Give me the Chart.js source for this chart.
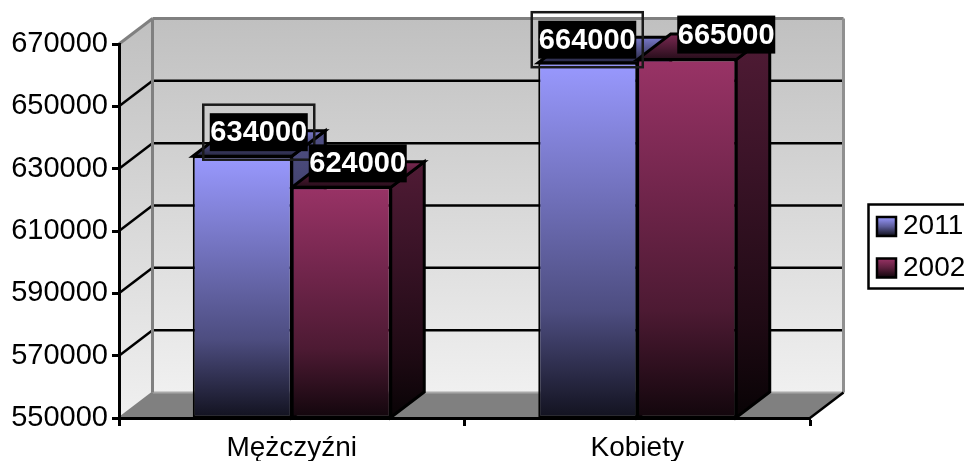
<!DOCTYPE html>
<html>
<head>
<meta charset="utf-8">
<style>html,body{margin:0;padding:0;background:#fff;overflow:hidden}canvas{display:block}</style>
<script src="https://cdn.jsdelivr.net/npm/chart.js@4"></script>
</head>
<body>
<canvas id="c" width="964" height="461"></canvas>
<script>
const categories = ['Mężczyźni', 'Kobiety'];
const seriesNames = ['2011', '2002'];
const values2011 = [634000, 664000];
const values2002 = [624000, 665000];
const axisMin = 550000;
const axisMax = 670000;
const axisStep = 20000;

const FONT = '"Liberation Sans", Arial, sans-serif';
const DX = 33.5, DY = 25.5;
const BASE_RGB = [[153, 153, 255], [153, 51, 102]];
const FRONT_STOPS = [[0, 1], [0.35, 0.75], [0.7, 0.5], [1, 0.12]];
const SIDE_STOPS = [[0, 0.52], [0.35, 0.38], [0.75, 0.2], [1, 0.05]];
// label offsets from each bar's top-centre, per series and category
const LABEL_OFFSET = [[[16.5, -24], [-0.5, -23]], [[16.5, -24], [39.5, -25]]];

function shade(rgb, f) {
  return 'rgb(' + rgb.map(v => Math.round(v * f)).join(',') + ')';
}
function grad(ctx, y0, y1, rgb, stops) {
  const g = ctx.createLinearGradient(0, y0, 0, y1);
  stops.forEach(s => g.addColorStop(s[0], shade(rgb, s[1])));
  return g;
}
function poly(ctx, pts, fill, stroke, lw) {
  ctx.beginPath();
  pts.forEach((p, i) => i ? ctx.lineTo(p[0], p[1]) : ctx.moveTo(p[0], p[1]));
  ctx.closePath();
  if (fill) { ctx.fillStyle = fill; ctx.fill(); }
  if (stroke) { ctx.strokeStyle = stroke; ctx.lineWidth = lw; ctx.lineJoin = 'miter'; ctx.stroke(); }
}
function line(ctx, x0, y0, x1, y1, color, lw) {
  ctx.beginPath(); ctx.moveTo(x0, y0); ctx.lineTo(x1, y1);
  ctx.strokeStyle = color; ctx.lineWidth = lw; ctx.stroke();
}

const scene = {
  id: 'scene',
  beforeInit(chart) {
    const fit = chart.legend.fit;
    chart.legend.fit = function () { fit.call(this); this.width = 154; };
  },
  afterLayout(chart) {
    const lg = chart.legend;
    lg.left = 863.5; lg.right = 1000; lg.top = 199; lg.bottom = 300;
  },
  beforeDraw(chart) {
    const { ctx, chartArea: a, scales: { y } } = chart;
    const L = a.left, R = a.right, T = a.top, B = a.bottom;
    ctx.save();
    const wall = ctx.createLinearGradient(0, T - DY, 0, B - DY);
    wall.addColorStop(0, '#c0c0c0'); wall.addColorStop(1, '#f0f0f0');
    poly(ctx, [[L + DX, T - DY], [R + DX, T - DY], [R + DX, B - DY], [L + DX, B - DY]], wall);
    const side = ctx.createLinearGradient(0, T - DY, 0, B);
    side.addColorStop(0, '#c0c0c0'); side.addColorStop(1, '#f0f0f0');
    poly(ctx, [[L, T], [L + DX, T - DY], [L + DX, B - DY], [L, B]], side);
    poly(ctx, [[L, B], [L + DX, B - DY], [R + DX, B - DY], [R, B]], '#808080');
    y.ticks.forEach(t => {
      if (t.value === axisMin || t.value === axisMax) return;
      const py = y.getPixelForValue(t.value);
      line(ctx, L, py, L + DX, py - DY, '#000', 2.5);
      line(ctx, L + DX, py - DY, R + DX, py - DY, '#000', 2.5);
    });
    line(ctx, L + DX, B - DY, R + DX, B - DY, '#a8a8a8', 2);
    line(ctx, L, T, L + DX, T - DY, '#808080', 3);
    line(ctx, L + DX, T - DY, R + DX, T - DY, '#808080', 3);
    line(ctx, L + DX, T - DY, L + DX, B - DY, '#808080', 3);
    line(ctx, R + DX, T - DY, R + DX, B - DY, '#909090', 3);
    line(ctx, L, B, L + DX, B - DY, '#808080', 2);
    line(ctx, R, B, R + DX, B - DY, '#000', 2.5);
    ctx.restore();
  },
  beforeDatasetsDraw(chart) {
    const { ctx } = chart;
    ctx.save();
    chart.data.datasets.forEach((ds, di) => {
      const rgb = BASE_RGB[di];
      chart.getDatasetMeta(di).data.forEach(el => {
        const p = el.getProps(['x', 'y', 'base', 'width'], true);
        const l = p.x - p.width / 2, r = p.x + p.width / 2;
        const topFill = ctx.createLinearGradient(0, p.y - DY, 0, p.y);
        topFill.addColorStop(0, shade(rgb, 0.8));
        topFill.addColorStop(1, shade(rgb, 0.25));
        poly(ctx, [[r, p.y], [r + DX, p.y - DY], [r + DX, p.base - DY], [r, p.base]],
          grad(ctx, p.y - DY, p.base, rgb, SIDE_STOPS), '#000', 3);
        poly(ctx, [[l, p.y], [l + DX, p.y - DY], [r + DX, p.y - DY], [r, p.y]], topFill, '#000', 3);
      });
    });
    ctx.restore();
  },
  afterDraw(chart) {
    const { ctx } = chart;
    ctx.save();
    // value labels
    chart.data.datasets.forEach((ds, di) => {
      chart.getDatasetMeta(di).data.forEach((el, i) => {
        const p = el.getProps(['x', 'y'], true);
        const cx = p.x + LABEL_OFFSET[di][i][0], cy = p.y + LABEL_OFFSET[di][i][1];
        if (di === 0) {
          ctx.strokeStyle = '#1a1a1a'; ctx.lineWidth = 2.5;
          ctx.strokeRect(cx - 55.5, cy - 27.5, 111, 55);
        }
        ctx.fillStyle = '#000';
        ctx.fillRect(cx - 49, cy - 19, 98, 38);
        ctx.fillStyle = '#fff';
        ctx.font = 'bold 29px ' + FONT;
        ctx.textAlign = 'center'; ctx.textBaseline = 'middle';
        ctx.fillText(String(ds.data[i]), cx, cy + 1);
      });
    });
    // legend frame and swatches
    const lg = chart.legend;
    const pad = lg.options.labels.padding;
    ctx.strokeStyle = '#000'; ctx.lineWidth = 2.5;
    ctx.strokeRect(868.5, 204.5, 120, 84);
    BASE_RGB.forEach((rgb, i) => {
      const x = lg.left + pad, y0 = 217 + i * 41.5;
      ctx.fillStyle = grad(ctx, y0, y0 + 19, rgb, [[0, 1], [0.5, 0.6], [1, 0.1]]);
      ctx.fillRect(x, y0, 19, 19);
      ctx.strokeStyle = '#000'; ctx.lineWidth = 2.5;
      ctx.strokeRect(x, y0, 19, 19);
    });
    ctx.restore();
  }
};

function barFill(di) {
  return c => {
    const y = c.chart.scales.y;
    if (!y || !c.parsed) return shade(BASE_RGB[di], 1);
    return grad(c.chart.ctx, y.getPixelForValue(c.parsed.y), y.getPixelForValue(axisMin), BASE_RGB[di], FRONT_STOPS);
  };
}

new Chart(document.getElementById('c'), {
  type: 'bar',
  data: {
    labels: categories,
    datasets: [
      { label: seriesNames[0], data: values2011, base: axisMin, backgroundColor: barFill(0) },
      { label: seriesNames[1], data: values2002, base: axisMin, backgroundColor: barFill(1) }
    ]
  },
  options: {
    responsive: false,
    animation: false,
    layout: { padding: { top: 44, left: 0, right: 0, bottom: 0 } },
    datasets: { bar: { barPercentage: 1, categoryPercentage: 0.573, borderWidth: 2, borderColor: '#000', borderSkipped: false } },
    plugins: {
      tooltip: { enabled: false },
      legend: {
        position: 'right',
        align: 'start',
        labels: {
          boxWidth: 12,
          boxHeight: 19,
          padding: 13.5,
          color: '#000',
          font: { family: FONT, size: 28 },
          generateLabels: chart => chart.data.datasets.map((d, i) => ({
            text: d.label, fillStyle: 'transparent', strokeStyle: 'transparent', lineWidth: 0, datasetIndex: i
          }))
        }
      }
    },
    scales: {
      x: {
        afterFit(s) { s.height = 43; },
        grid: { drawOnChartArea: false, offset: true, tickLength: 8, tickColor: '#000', tickWidth: 3 },
        border: { color: '#000', width: 3 },
        ticks: { color: '#000', padding: 5, font: { family: FONT, size: 28 }, maxRotation: 0, autoSkip: false }
      },
      y: {
        min: axisMin,
        max: axisMax,
        afterFit(s) { s.width = 119; },
        grid: { drawOnChartArea: false, tickLength: 7, tickColor: '#000', tickWidth: 3 },
        border: { color: '#000', width: 3 },
        ticks: { stepSize: axisStep, color: '#000', padding: 4, font: { family: FONT, size: 29 }, callback: v => String(v) }
      }
    }
  },
  plugins: [scene]
});
</script>
</body>
</html>
